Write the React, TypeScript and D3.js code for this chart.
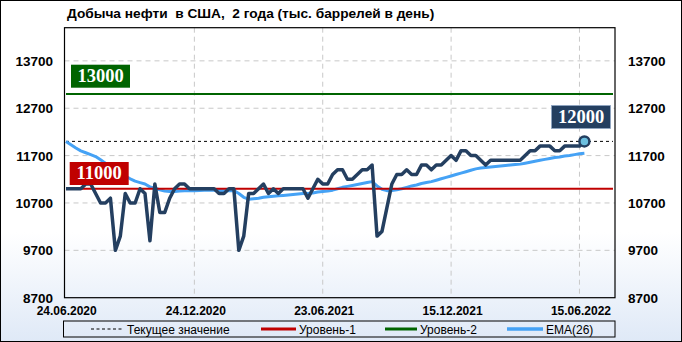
import React from "react";
import * as d3 from "d3";

// ---- data ----
const tickLabels = ["24.06.2020", "24.12.2020", "23.06.2021", "15.12.2021", "15.06.2022"];
const tickIndex = [0, 26, 52, 78, 104];
const yTicks = [8700, 9700, 10700, 11700, 12700, 13700];

const production = [
  11000, 11000, 11000, 11000, 11100, 11100, 10900, 10700, 10700, 10800,
  9700, 10000, 10900, 10700, 10700, 11000, 10900, 9900, 11100, 10500,
  10500, 10800, 11000, 11100, 11100, 11000, 11000, 11000, 11000, 11000,
  11000, 10900, 10900, 11000, 11000, 9700, 10000, 10900, 10900, 11000,
  11100, 10900, 11000, 10900, 11000, 11000, 11000, 11000, 11000, 10800,
  11000, 11200, 11100, 11100, 11300, 11400, 11400, 11200, 11200, 11300,
  11400, 11400, 11500, 10000, 10100, 10600, 11100, 11300, 11300, 11400,
  11300, 11300, 11500, 11500, 11400, 11500, 11500, 11600, 11700, 11600,
  11800, 11800, 11700, 11700, 11600, 11500, 11600, 11600, 11600, 11600,
  11600, 11600, 11600, 11700, 11800, 11800, 11900, 11900, 11900, 11800,
  11800, 11900, 11900, 11900, 11900, 12000,
];

const ema26 = [
  12000, 11930, 11860, 11800, 11760, 11720, 11680, 11610, 11540, 11470,
  11400, 11330, 11270, 11210, 11160, 11130, 11100, 11040, 11010, 10980,
  10950, 10940, 10940, 10950, 10960, 10960, 10960, 10965, 10970, 10970,
  10970, 10965, 10960, 10960, 10960, 10900, 10820, 10780, 10790, 10800,
  10820, 10830, 10840, 10850, 10860, 10870, 10880, 10890, 10900, 10900,
  10910, 10930, 10940, 10950, 10970, 11000, 11030, 11050, 11070, 11090,
  11110, 11130, 11150, 11060, 10990, 10960, 10960, 10980, 11000, 11030,
  11060, 11080, 11110, 11130, 11150, 11180, 11210, 11240, 11270, 11300,
  11330, 11360, 11390, 11420, 11440, 11450, 11460, 11470, 11480, 11490,
  11500, 11510, 11520, 11540, 11560, 11580, 11600, 11620, 11640, 11660,
  11670, 11690, 11700, 11720, 11740, 11750,
];

const currentValue = 12000;
const level1 = 11000;
const level2 = 13000;

const title = "Добыча нефти  в США,  2 года (тыс. баррелей в день)";
const legendItems = [
  { label: "Текущее значение", kind: "dash" },
  { label: "Уровень-1", kind: "l1" },
  { label: "Уровень-2", kind: "l2" },
  { label: "EMA(26)", kind: "ema" },
];

// ---- layout ----
const W = 682;
const H = 342;
const PL = 64.5, PR = 615, PT = 27.7, PB = 297.7;
const NAVY = "#243f60";
const BLUE = "#45a2f5";
const RED = "#c00000";
const GREEN = "#006400";
const SANS = "'Liberation Sans', Arial, sans-serif";
const SERIF = "'Liberation Serif', 'Times New Roman', serif";

export default function App() {
  const x = d3.scaleLinear().domain([0, production.length - 1]).range([66, 584.4]);
  const y = d3.scaleLinear().domain([8700, 14400]).range([PB, PT]);
  const line = d3.line<number>().x((_, i) => x(i)).y((d) => y(d));
  const lastI = production.length - 1;

  const legendX = [91, 261, 385, 507];
  const legendW = [33, 35, 32, 36];

  const valueBox = (v: number, cx: number, bottom: number, fill: string) => {
    const w = 59, h = 23;
    return (
      <g>
        <rect x={cx - w / 2} y={bottom - h} width={w} height={h} fill={fill} stroke={fill === NAVY ? "#8fa6c4" : "none"} strokeWidth={0.8} />
        <text x={cx} y={bottom - 6} textAnchor="middle" fill="#fff" fontFamily={SERIF} fontWeight="bold" fontSize={18.5}>
          {v}
        </text>
      </g>
    );
  };

  return (
    <svg width={W} height={H} style={{ position: "absolute", left: 0, top: 0 }}>
      <defs>
        <linearGradient id="bg" x1="0" y1="0" x2="0" y2="1">
          <stop offset="0" stopColor="#ffffff" />
          <stop offset="0.68" stopColor="#ffffff" />
          <stop offset="1" stopColor="#dfe9f7" />
        </linearGradient>
      </defs>
      <rect x={0.5} y={0.5} width={W - 1} height={H - 1} fill="url(#bg)" stroke="#000" />

      <text x={67} y={18} fontFamily={SANS} fontWeight="bold" fontSize={13.7} fill="#000" style={{ whiteSpace: "pre" }}>
        {title}
      </text>

      {/* grid */}
      {yTicks.slice(1).map((t) => (
        <line key={t} x1={PL} x2={PR} y1={y(t)} y2={y(t)} stroke="#c8c8c8" strokeDasharray="5,4" />
      ))}
      {tickIndex.slice(1).map((t) => (
        <line key={t} x1={x(t)} x2={x(t)} y1={PT} y2={PB} stroke="#c8c8c8" strokeDasharray="5,4" />
      ))}

      {/* axis labels */}
      {yTicks.map((t) => (
        <g key={t}>
          <text x={53} y={y(t) + 5} textAnchor="end" fontFamily={SANS} fontWeight="bold" fontSize={13.5}>
            {t}
          </text>
          <text x={628} y={y(t) + 5} textAnchor="start" fontFamily={SANS} fontWeight="bold" fontSize={13.5}>
            {t}
          </text>
        </g>
      ))}
      {tickIndex.map((t, i) => (
        <text key={t} x={i === 0 ? 66.7 : x(t) + 1.5} y={315} textAnchor="middle" fontFamily={SANS} fontWeight="bold" fontSize={12}>
          {tickLabels[i]}
        </text>
      ))}

      {/* levels */}
      <line x1={x(0)} x2={PR - 2} y1={y(currentValue)} y2={y(currentValue)} stroke="#000" strokeDasharray="3,3" />
      <line x1={x(0)} x2={PR - 2} y1={y(level2)} y2={y(level2)} stroke={GREEN} strokeWidth={2.2} />

      <path d={line(ema26) || ""} fill="none" stroke={BLUE} strokeWidth={3} strokeLinejoin="round" />
      <line x1={x(0)} x2={PR - 2} y1={y(level1)} y2={y(level1)} stroke={RED} strokeWidth={2.2} />
      <path d={line(production) || ""} fill="none" stroke={NAVY} strokeWidth={3.5} strokeLinejoin="round" />

      <circle cx={x(lastI)} cy={y(production[lastI])} r={5} fill="#6cc0e0" stroke={NAVY} strokeWidth={2.5} />

      {valueBox(level2, 100.5, 87.7, GREEN)}
      {valueBox(level1, 99.2, 185, RED)}
      {valueBox(currentValue, 581, 128.5, NAVY)}

      {/* frame */}
      <rect x={PL} y={PT} width={PR - PL} height={PB - PT} fill="none" stroke="#000" strokeWidth={1.2} />

      {/* legend */}
      <rect x={63.5} y={321} width={551.5} height={16} fill="none" stroke="#000" />
      {legendItems.map((it, i) => {
        const lx = legendX[i];
        const ly = 329;
        const common = { x1: lx, x2: lx + legendW[i], y1: ly, y2: ly };
        return (
          <g key={it.label}>
            {it.kind === "dash" && <line {...common} stroke="#000" strokeDasharray="3,2.5" />}
            {it.kind === "l1" && <line {...common} stroke={RED} strokeWidth={3} />}
            {it.kind === "l2" && <line {...common} stroke={GREEN} strokeWidth={3} />}
            {it.kind === "ema" && <line {...common} stroke={BLUE} strokeWidth={3.5} />}
            <text x={lx + legendW[i] + 3} y={333.5} fontFamily={SANS} fontSize={12}>
              {it.label}
            </text>
          </g>
        );
      })}
    </svg>
  );
}
